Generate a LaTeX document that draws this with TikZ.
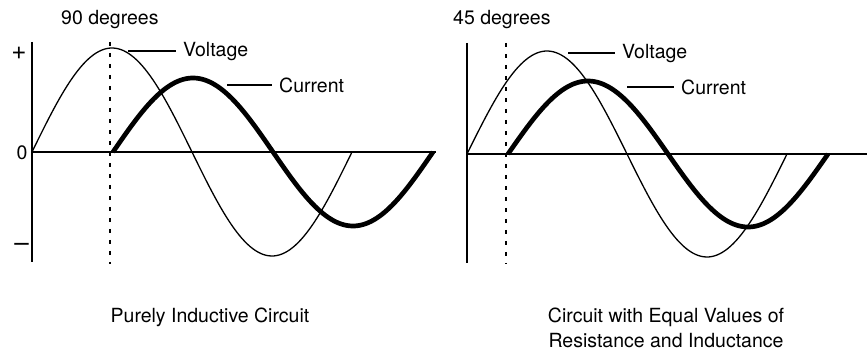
\documentclass[tikz,border=0pt]{standalone}
\usepackage{fontspec}
\setmainfont{TeX Gyre Heros}
\begin{document}
\begin{tikzpicture}[x=1pt,y=-1pt,
  lbl/.style={font=\fontsize{19.5}{22}\selectfont, inner sep=0pt},
  sign/.style={font=\fontsize{26}{28}\selectfont, inner sep=0pt},
  axis/.style={line width=2pt},
  volt/.style={line width=1.3pt},
  curr/.style={line width=4.7pt},
  dotline/.style={line width=2.5pt, dash pattern=on 4pt off 7pt},
  lead/.style={line width=1.5pt, shorten >=7pt}]
\useasboundingbox (0,0) rectangle (867,352);
% ---------- left panel ----------
\coordinate (la1) at (32,42);
\coordinate (la2) at (32,262);
\coordinate (lh1) at (32,152);
\coordinate (lh2) at (436,152);
\draw[axis] (la1) -- (la2);
\draw[axis] (lh1) -- (lh2);
\coordinate (ld1) at (110,42);
\coordinate (ld2) at (110,264);
\draw[dotline] (ld1) -- (ld2);
\draw[volt] plot[domain=0:320, samples=120] ({32+\x},{152-104*sin(\x*1.125)});
\draw[curr] plot[domain=0:320, samples=120] ({113+\x},{152-74*sin(\x*1.125)});
\node[sign] (lplus) at (19,53) {+};
\node[lbl] (lzero) at (22,153) {0};
\node[sign] (lminus) at (21.5,247) {--};
\node[lbl, anchor=base west] (ltitle) at (61,25) {90 degrees};
\node[lbl, anchor=base west] (lvolt) at (183,57) {Voltage};
\coordinate (lvs) at (128,51);
\draw[lead] (lvs) -- (lvs -| lvolt.west);
\node[lbl, anchor=base west] (lcurr) at (279,93) {Current};
\coordinate (lcs) at (227,85);
\draw[lead] (lcs) -- (lcs -| lcurr.west);
\node[lbl, anchor=base] (lcap) at (210,323) {Purely Inductive Circuit};
% ---------- right panel ----------
\coordinate (ra1) at (467,43);
\coordinate (ra2) at (467,263);
\coordinate (rh1) at (467,154);
\coordinate (rh2) at (867,154);
\draw[axis] (ra1) -- (ra2);
\draw[axis] (rh1) -- (rh2);
\coordinate (rd1) at (506,43);
\coordinate (rd2) at (506,264);
\draw[dotline] (rd1) -- (rd2);
\draw[volt] plot[domain=0:320, samples=120] ({467+\x},{154-103*sin(\x*1.125)});
\draw[curr] plot[domain=0:320, samples=120] ({508+\x},{154-73*sin(\x*1.125)});
\node[lbl, anchor=base west] (rtitle) at (453,25) {45 degrees};
\node[lbl, anchor=base west] (rvolt) at (622,59) {Voltage};
\coordinate (rvs) at (568,53);
\draw[lead] (rvs) -- (rvs -| rvolt.west);
\node[lbl, anchor=base west] (rcurr) at (681,95) {Current};
\coordinate (rcs) at (627,87);
\draw[lead] (rcs) -- (rcs -| rcurr.west);
\node[lbl, anchor=base] (rcap1) at (666,323) {Circuit with Equal Values of};
\node[lbl, anchor=base] (rcap2) at (666,348) {Resistance and Inductance};
\end{tikzpicture}
\end{document}
